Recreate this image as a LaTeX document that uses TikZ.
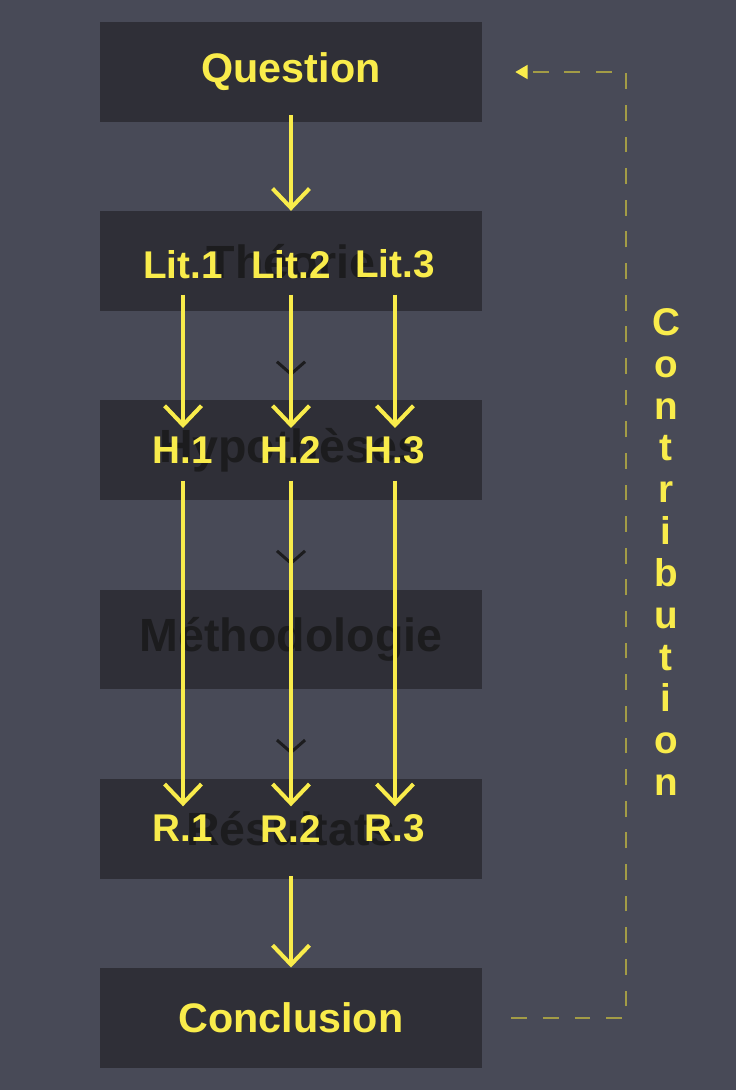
\documentclass[tikz,border=0pt]{standalone}
\usepackage{fontspec}
\setmainfont{Liberation Sans}
\usetikzlibrary{arrows.meta,positioning}
\definecolor{bgcol}{HTML}{484A57}
\definecolor{boxcol}{HTML}{2F2F37}
\definecolor{ylw}{HTML}{F9EC4B}
\definecolor{dashcol}{HTML}{A39C46}
\definecolor{ink}{HTML}{1C1C1E}

\begin{document}
\begin{tikzpicture}[x=0.02cm, y=-0.02cm, node distance=1.77cm,
  stage/.style={fill=boxcol, minimum width=7.64cm, minimum height=2cm, inner sep=0pt, text=ink, font=\bfseries\fontsize{26.5}{30}\selectfont},
  endstage/.style={stage, text=ylw, font=\bfseries\fontsize{23.5}{28}\selectfont},
  tag/.style={text=ylw, minimum height=1.2cm, inner sep=0pt, font=\bfseries\fontsize{22}{26}\selectfont},
  flow/.style={draw=ylw, line width=2.3pt, -{Straight Barb[length=11pt, width=21pt]}},
  hidden/.style={draw=ink, line width=1.7pt, shorten >=0.48cm, -{Straight Barb[length=7pt, width=16pt]}},
  feedback/.style={draw=dashcol, line width=0.9pt, dash pattern=on 9pt off 9pt, -{Triangle[length=7pt, width=8pt, color=ylw]}}]
  \fill[bgcol] (0,0) rectangle (736,1090);

  % stages
  \node[endstage] (question) at (291,72) {Question};
  \node[stage, below=of question] (theorie) {Théorie};
  \node[stage, below=of theorie] (hypo) {Hypothèses};
  \node[stage, below=of hypo] (methode) {Méthodologie};
  \node[stage, below=of methode] (resultats) {Résultats};
  \node[endstage, below=of resultats] (conclusion) {Conclusion};

  \draw[hidden] (theorie.south) -- (hypo.north);
  \draw[hidden] (hypo.south) -- (methode.north);
  \draw[hidden] (methode.south) -- (resultats.north);

  % branches
  \node[tag] (lit1) at ([xshift=-2.16cm, yshift=-0.06cm]theorie.center) {Lit.1};
  \node[tag] (lit2) at ([yshift=-0.06cm]theorie.center) {Lit.2};
  \node[tag] (lit3) at ([xshift=2.08cm, yshift=-0.06cm]theorie.center) {Lit.3};
  \node[tag] (h1) at ([xshift=-2.16cm]hypo.center) {H.1};
  \node[tag] (h2) at (hypo.center) {H.2};
  \node[tag] (h3) at ([xshift=2.08cm]hypo.center) {H.3};
  \node[tag] (r1) at ([xshift=-2.16cm]resultats.center) {R.1};
  \node[tag] (r2) at (resultats.center) {R.2};
  \node[tag] (r3) at ([xshift=2.08cm]resultats.center) {R.3};

  \draw[flow, shorten <=-0.14cm] (question.south) -- (theorie.north);
  \foreach \i in {1,2,3} {
    \draw[flow, shorten >=-0.16cm] (lit\i.south) -- (h\i.north);
    \draw[flow, shorten >=-0.16cm] (h\i.south) -- (r\i.north);
  }
  \draw[flow, shorten <=-0.06cm] (resultats.south) -- (conclusion.north);

  % loop back
  \node[text=ylw, align=center, inner sep=0pt, font=\bfseries\fontsize{22}{23.8}\selectfont] (contrib) at (666,552)
    {C\\o\\n\\t\\r\\i\\b\\u\\t\\i\\o\\n};
  \draw[feedback] ([xshift=0.58cm]conclusion.east) -- ++(2.3cm,0) |- ([xshift=0.66cm]question.east);
\end{tikzpicture}
\end{document}
